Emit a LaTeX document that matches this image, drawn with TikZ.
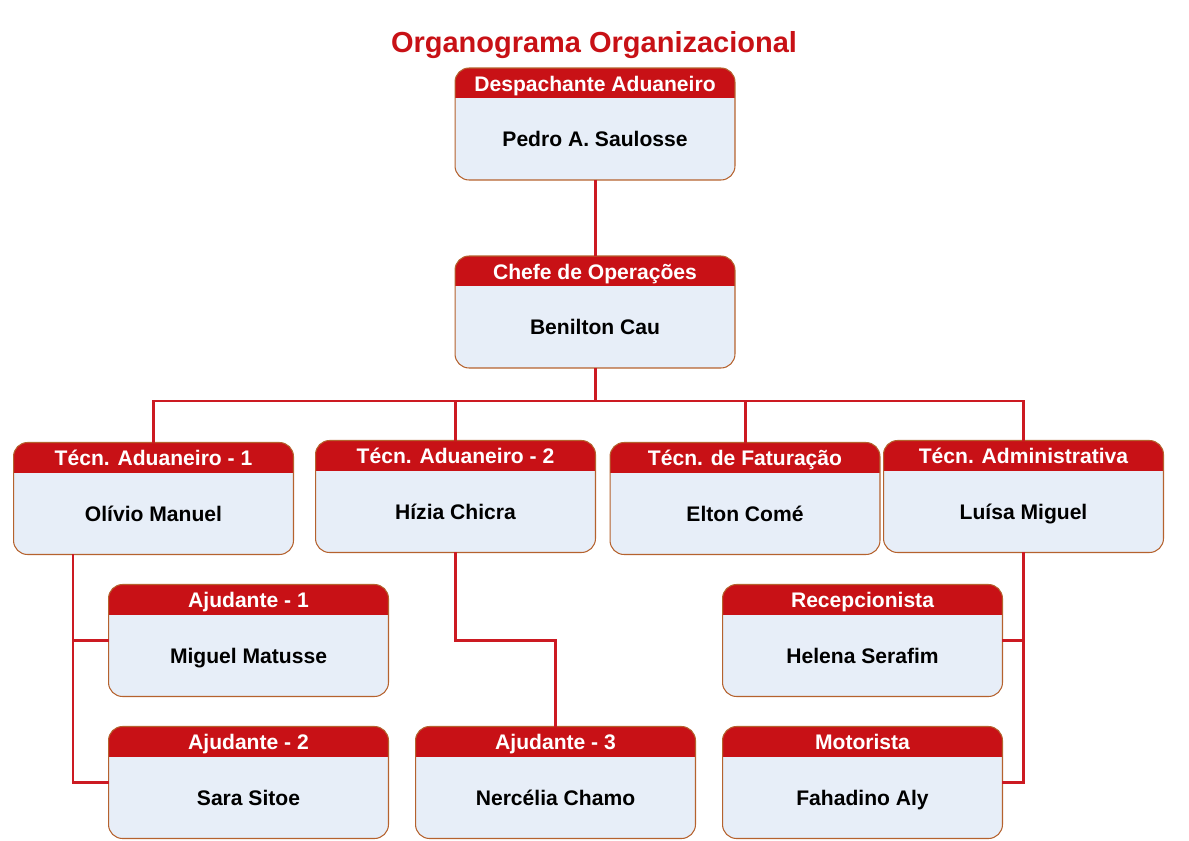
\documentclass[tikz,border=0pt]{standalone}
\usepackage{fontspec}
\setmainfont{Liberation Sans}
\usepackage{xcolor}
\usepackage{tikz}
\usetikzlibrary{calc}
\definecolor{vermelho}{HTML}{C81116}
\definecolor{linhacor}{HTML}{CC1A22}
\definecolor{fundo}{HTML}{E7EEF8}
\definecolor{borda}{HTML}{B5622E}
\tikzset{
  caixa/.style={fill=fundo, draw=none, rounded corners=0.28cm, minimum height=2.24cm, inner sep=0pt, outer sep=0pt},
  contorno/.style={draw=borda, line width=0.6pt, rounded corners=0.28cm},
  cargo/.style={text=white, font=\bfseries\fontsize{12}{14}\selectfont, inner sep=0pt, text height=8.6pt, text depth=0pt},
  pessoa/.style={text=black, font=\bfseries\fontsize{12}{14}\selectfont, inner sep=0pt, text height=8.6pt, text depth=0pt},
  titulo/.style={text=vermelho, font=\bfseries\fontsize{16.5}{19}\selectfont, inner sep=0pt, text height=11.8pt, text depth=0pt},
  linha/.style={draw=linhacor, line width=1.7pt},
}
% caixa do organograma: nome, x, y, largura, cargo, pessoa
\newcommand{\orgbox}[6]{%
  \node[caixa, minimum width=#4] (#1) at (#2,#3) {};
  \begin{scope}
    \clip[rounded corners=0.28cm] (#1.south west) rectangle (#1.north east);
    \fill[vermelho] (#1.north west) rectangle ([yshift=-0.6cm]#1.north east);
  \end{scope}
  \draw[contorno] (#1.south west) rectangle (#1.north east);
  \node[cargo] (#1-c) at ([yshift=-0.31cm]#1.north) {#5};
  \node[pessoa] (#1-p) at ([yshift=-0.3cm]#1.center) {#6};
}

\begin{document}
\begin{tikzpicture}[x=0.02cm, y=-0.02cm]
  \useasboundingbox (0,0) rectangle (1189,841);

  \node[titulo] (titulo) at (594,42) {Organograma Organizacional};

  \orgbox{desp}{595}{124}{5.6cm}{Despachante Aduaneiro}{Pedro A. Saulosse}
  \orgbox{chefe}{595}{312}{5.6cm}{Chefe de Operações}{Benilton Cau}

  \orgbox{tec1}{153.5}{498.5}{5.6cm}{Técn. Aduaneiro - 1}{Olívio Manuel}
  \orgbox{tec2}{455.5}{496.5}{5.6cm}{Técn. Aduaneiro - 2}{Hízia Chicra}
  \orgbox{fat}{745}{498.5}{5.4cm}{Técn. de Faturação}{Elton Comé}
  \orgbox{adm}{1023.5}{496.5}{5.6cm}{Técn. Administrativa}{Luísa Miguel}

  \orgbox{aj1}{248.5}{640.5}{5.6cm}{Ajudante - 1}{Miguel Matusse}
  \orgbox{aj2}{248.5}{782.5}{5.6cm}{Ajudante - 2}{Sara Sitoe}
  \orgbox{aj3}{555.5}{782.5}{5.6cm}{Ajudante - 3}{Nercélia Chamo}
  \orgbox{rec}{862.5}{640.5}{5.6cm}{Recepcionista}{Helena Serafim}
  \orgbox{mot}{862.5}{782.5}{5.6cm}{Motorista}{Fahadino Aly}

  \coordinate (bus) at (595,401);
  \coordinate (t1) at (73,554);

  \draw[linha] (desp) -- (chefe);
  \draw[linha] (chefe.south) -- (bus);
  \draw[linha] (tec1.north) |- (bus);
  \draw[linha] (tec2.north) |- (bus);
  \draw[linha] (fat.north) |- (bus);
  \draw[linha] (adm.north) |- (bus);

  \draw[linha] (t1) |- (aj1.west);
  \draw[linha] (t1) |- (aj2.west);
  \draw[linha] (tec2.south) -- ++(0,88) -| (aj3.north);
  \draw[linha] (adm.south) |- (rec.east);
  \draw[linha] (adm.south) |- (mot.east);
\end{tikzpicture}
\end{document}
